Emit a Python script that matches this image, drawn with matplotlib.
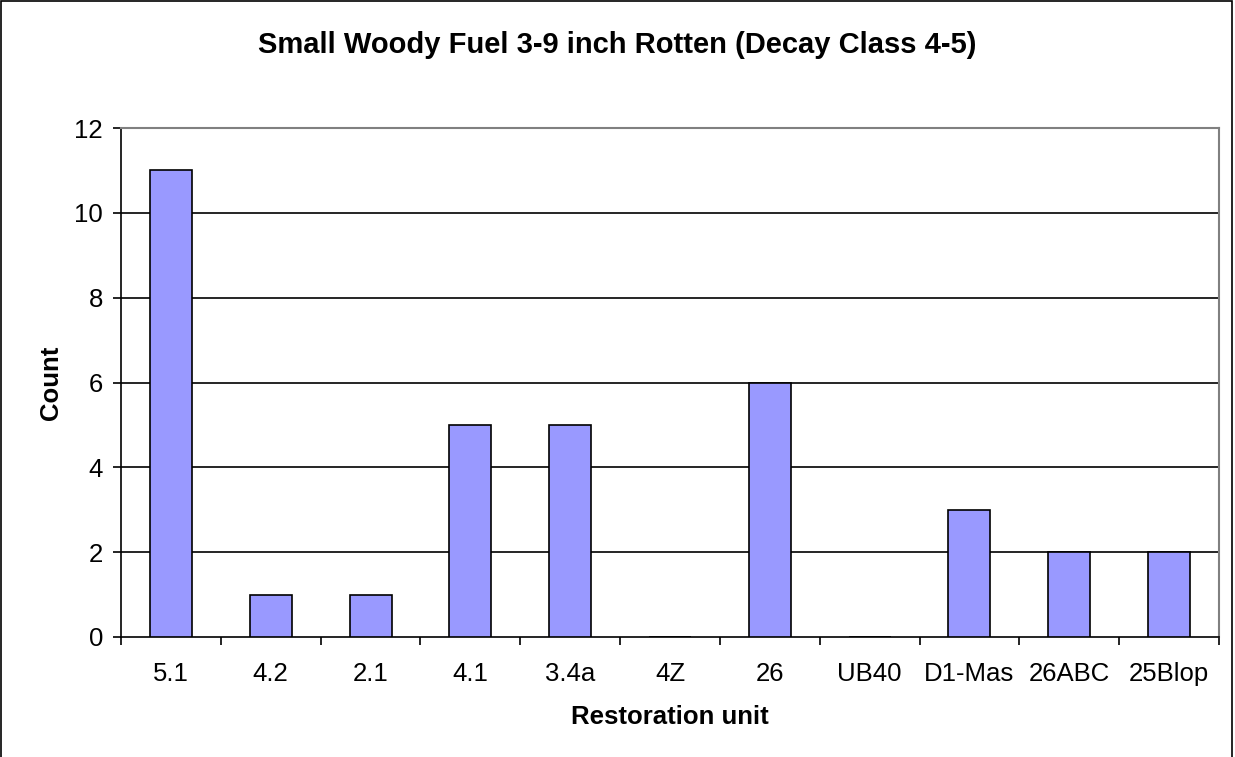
import matplotlib
matplotlib.use("Agg")
import matplotlib.pyplot as plt
from matplotlib.patches import Rectangle
import numpy as np

units = ["5.1", "4.2", "2.1", "4.1", "3.4a", "4Z", "26", "UB40", "D1-Mas", "26ABC", "25Blop"]
counts = [11, 1, 1, 5, 5, 0, 6, 0, 3, 2, 2]
yticks = [0, 2, 4, 6, 8, 10, 12]

plt.rcParams["font.family"] = ["Liberation Sans", "DejaVu Sans"]

W, H = 1235, 757
fig = plt.figure(figsize=(W / 100, H / 100), dpi=100)
ax = fig.add_axes([121 / W, 1 - 637 / H, (1219 - 121) / W, (637 - 128) / H])

x = np.arange(len(units))
ax.bar(x, counts, width=0.42, color="#9999FF", edgecolor="black", linewidth=1.2, zorder=3)

ax.set_xlim(-0.5, len(units) - 0.5)
ax.set_ylim(0, 12)
ax.set_yticks(yticks)
ax.set_yticklabels([str(v) for v in yticks], fontsize=18.5)
ax.set_xticks(x)
ax.set_xticklabels(units, fontsize=18.5)
ax.tick_params(axis="x", length=0, pad=18)
ax.set_xticks(np.arange(len(units) + 1) - 0.5, minor=True)
ax.tick_params(axis="x", which="minor", length=6, width=1.2, direction="out")
ax.tick_params(axis="y", length=6, width=1.2, direction="out", pad=7)

for v in yticks[1:-1]:
    ax.axhline(v, color="black", lw=1.2, zorder=1)

for s in ["left", "bottom"]:
    ax.spines[s].set_color("black")
    ax.spines[s].set_linewidth(1.2)
for s in ["top", "right"]:
    ax.spines[s].set_color("#808080")
    ax.spines[s].set_linewidth(1.5)

ax.set_xlabel("Restoration unit", fontsize=18.5, fontweight="bold", labelpad=14)
ax.set_ylabel("Count", fontsize=18.5, fontweight="bold", labelpad=8)
fig.text(0.5, 1 - 53 / H, "Small Woody Fuel 3-9 inch Rotten (Decay Class 4-5)",
         ha="center", va="baseline", fontsize=21, fontweight="bold")

fig.patches.append(Rectangle((1 / W, -0.01), (1232 - 1) / W, 1 - 1 / H + 0.01,
                             transform=fig.transFigure, fill=False, edgecolor="black", lw=1.2))

fig.savefig("out.png", dpi=100)
